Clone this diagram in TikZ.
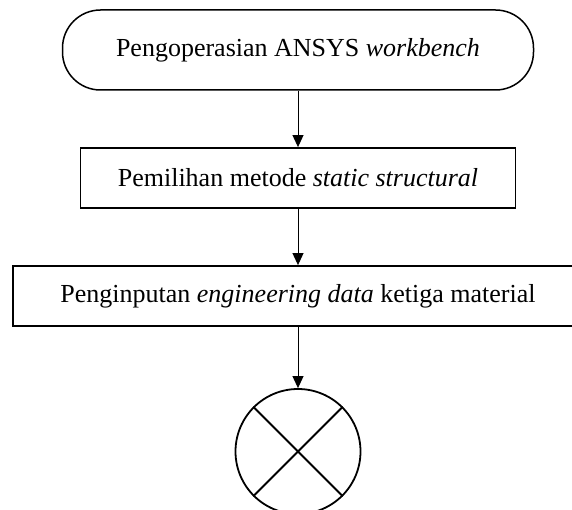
\documentclass[tikz,border=0pt]{standalone}
\usepackage{fontspec}
\setmainfont{Liberation Serif}
\usepackage{tikz}
\usetikzlibrary{positioning,arrows.meta}

\begin{document}
\begin{tikzpicture}[
x=1pt, y=1pt,
terminal/.style={rectangle, draw=black, fill=white, line width=1.5pt, rounded corners=38pt, minimum width=471pt, minimum height=80pt, align=center, font=\fontsize{26}{31}\selectfont},
box/.style={rectangle, draw=black, fill=white, line width=1.8pt, minimum height=60pt, align=center, font=\fontsize{26}{31}\selectfont},
junction/.style={circle, draw=black, line width=1.8pt, minimum size=125pt, inner sep=0pt},
flow/.style={line width=0.9pt, -{Triangle[length=12pt, width=11pt]}}
]
\useasboundingbox (0,0) rectangle (572,-510);

\node[terminal](start) at (298,-50){Pengoperasian ANSYS \textit{workbench}};
\node[box, minimum width=435pt](method)[below of = start, node distance=128pt]{Pemilihan metode \textit{static structural}};
\node[box, minimum width=570pt](input)[below of = method, node distance=118pt]{Penginputan \textit{engineering data} ketiga material};
\node[junction](merge)[below of = input, node distance=155.5pt]{};

\draw[line width=1.8pt] (merge.45) -- (merge.225);
\draw[line width=1.8pt] (merge.135) -- (merge.-45);

\draw[flow] (start) -- (method);
\draw[flow] (method) -- (input);
\draw[flow] (input) -- (merge);

\end{tikzpicture}
\end{document}
